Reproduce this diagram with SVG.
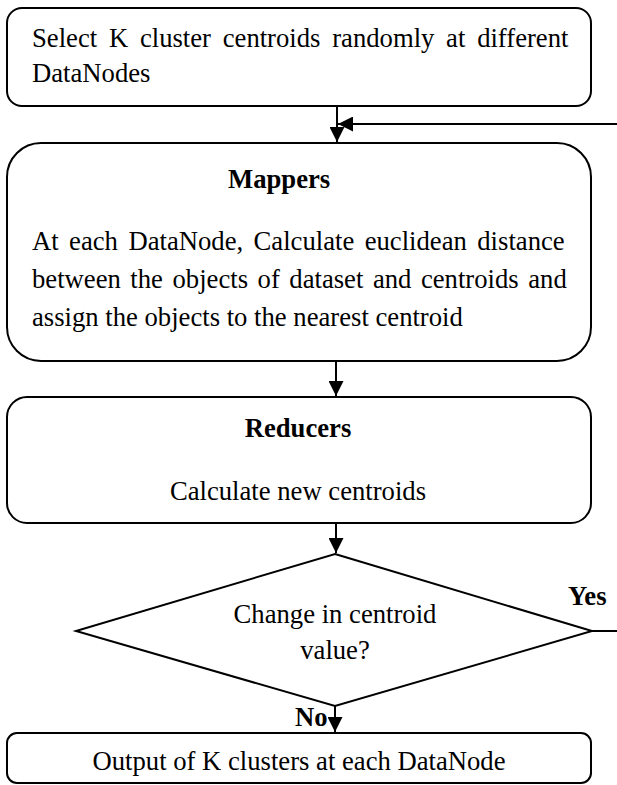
<svg xmlns="http://www.w3.org/2000/svg" width="617" height="785" viewBox="0 0 617 785">
<defs>
<marker id="ah" markerUnits="userSpaceOnUse" markerWidth="16" markerHeight="15" refX="15" refY="7.5" orient="auto">
<path d="M0,0 L15,7.5 L0,15 Z" fill="#000"/>
</marker>
<style>
.box{fill:#fff;stroke:#000;stroke-width:2}
.t{font-family:"Liberation Serif","Times New Roman",serif;font-size:26.67px;fill:#000}
.b{font-weight:bold}
.c{text-anchor:middle}
.ln{fill:none;stroke:#000;stroke-width:2}
</style>
</defs>
<g id="connectors">
<line class="ln" x1="337" y1="106" x2="337" y2="142" marker-end="url(#ah)"/>
<line class="ln" x1="617" y1="124" x2="338" y2="124" marker-end="url(#ah)"/>
<line class="ln" x1="336" y1="361" x2="336" y2="396" marker-end="url(#ah)"/>
<line class="ln" x1="336" y1="524" x2="336" y2="553" marker-end="url(#ah)"/>
<line class="ln" x1="335" y1="706" x2="335" y2="732" marker-end="url(#ah)"/>
<line class="ln" x1="592" y1="631" x2="617" y2="631"/>
<text class="t b" x="568" y="605">Yes</text>
<text class="t b" x="295" y="726">No</text>
</g>
<g id="start">
<rect class="box" x="7" y="8" width="584" height="98" rx="15"/>
<text class="t" x="32" y="47" word-spacing="5.1">Select K cluster centroids randomly at different</text>
<text class="t" x="32" y="82">DataNodes</text>
</g>
<g id="mappers">
<rect class="box" x="7" y="143" width="584" height="218" rx="34"/>
<text class="t b" x="228" y="188">Mappers</text>
<text class="t" x="32" y="250" word-spacing="3.8">At each DataNode, Calculate euclidean distance</text>
<text class="t" x="32" y="288" word-spacing="2.9">between the objects of dataset and centroids and</text>
<text class="t" x="32" y="326">assign the objects to the nearest centroid</text>
</g>
<g id="reducers">
<rect class="box" x="7" y="397" width="584" height="126" rx="20"/>
<text class="t b c" x="298" y="437">Reducers</text>
<text class="t c" x="298" y="500">Calculate new centroids</text>
</g>
<g id="decision">
<polygon class="box" points="335,554 592,631 335,706 76,631"/>
<text class="t c" x="335" y="623">Change in centroid</text>
<text class="t c" x="335" y="659">value?</text>
</g>
<g id="output">
<rect class="box" x="7" y="733" width="584" height="50" rx="10"/>
<text class="t c" x="299" y="770">Output of K clusters at each DataNode</text>
</g>
</svg>
